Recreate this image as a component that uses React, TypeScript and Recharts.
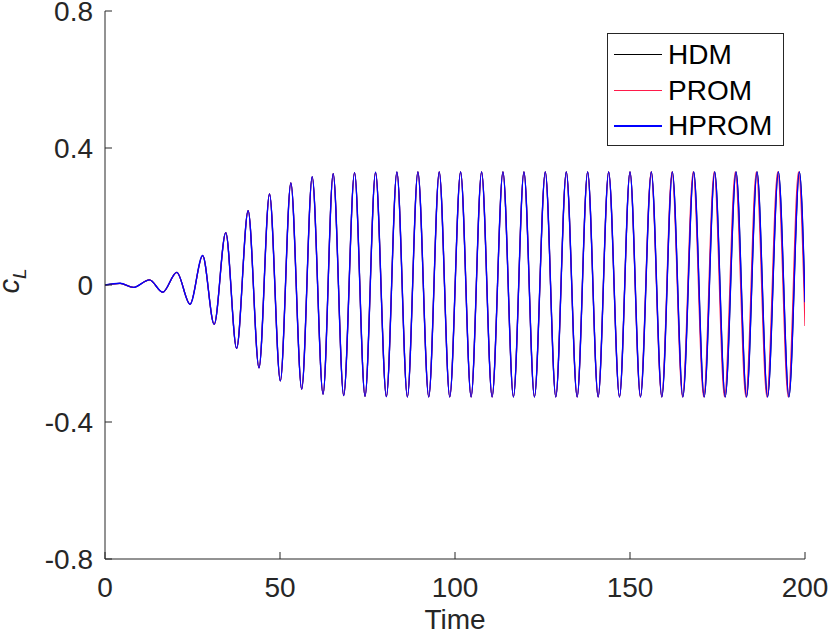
import { LineChart, Line, XAxis, YAxis, Legend } from 'recharts'

// extrema of the lift coefficient (start, alternating peaks / troughs, end)
const hdmTime = [
  0, 4.3, 8.1, 12.7, 16.5, 20.5, 24.3, 27.9, 31.2, 34.5, 37.6, 40.9, 44.0, 47.0, 50.1, 53.1,
  56.2, 59.2, 62.3, 65.2, 68.2, 71.3, 74.3, 77.3, 80.4, 83.4, 86.4, 89.4, 92.5, 95.5, 98.5,
  101.6, 104.6, 107.6, 110.6, 113.7, 116.7, 119.7, 122.7, 125.8, 128.8, 131.8, 134.9, 137.9,
  140.9, 143.9, 147.0, 150.0, 153.0, 156.1, 159.1, 162.1, 165.1, 168.2, 171.2, 174.2, 177.2,
  180.3, 183.3, 186.3, 189.3, 192.4, 195.4, 198.4, 200,
]
const hdmValue = [
  0, 0.005, -0.007, 0.015, -0.021, 0.037, -0.056, 0.086, -0.115, 0.153, -0.185, 0.217, -0.242,
  0.266, -0.28, 0.298, -0.304, 0.316, -0.319, 0.325, -0.323, 0.328, -0.325, 0.329, -0.326,
  0.33, -0.327, 0.33, -0.327, 0.33, -0.327, 0.33, -0.327, 0.33, -0.327, 0.33, -0.327, 0.33,
  -0.327, 0.33, -0.327, 0.33, -0.327, 0.33, -0.327, 0.33, -0.327, 0.33, -0.327, 0.33, -0.327,
  0.33, -0.327, 0.33, -0.327, 0.33, -0.327, 0.33, -0.327, 0.33, -0.327, 0.33, -0.327, 0.33, -0.05,
]
// PROM drifts slightly out of phase with the HDM late in the run
const promTime = [
  ...hdmTime.slice(0, 48),
  152.95, 156.05, 159.05, 162.0, 165.0, 168.05, 171.05, 174.05, 177.0, 180.1, 183.1, 186.1,
  189.1, 192.2, 195.2, 198.15, 200,
]
const promValue = [...hdmValue.slice(0, 64), -0.12]
const hpromTime = hdmTime
const hpromValue = hdmValue

const xTicks = [0, 50, 100, 150, 200]
const yTicks = [-0.8, -0.4, 0, 0.4, 0.8]

const series = [
  { name: 'HDM', color: '#000000', time: hdmTime, value: hdmValue },
  { name: 'PROM', color: '#ff1a4a', time: promTime, value: promValue },
  { name: 'HPROM', color: '#0000ff', time: hpromTime, value: hpromValue },
]

const AX = '#262626'
const FONT = 'Arial, "Liberation Sans", Helvetica, sans-serif'
const TICK = 7

function BottomTick({ x, y, payload }: any) {
  return (
    <g>
      <line x1={x} x2={x} y1={y} y2={y - TICK} stroke={AX} />
      <text x={x} y={y + 38} textAnchor="middle" fill={AX} fontSize={28} fontFamily={FONT}>
        {payload.value}
      </text>
    </g>
  )
}

function TopTick({ x, y }: any) {
  return <line x1={x} x2={x} y1={y} y2={y + TICK} stroke={AX} />
}

function LeftTick({ x, y, payload }: any) {
  return (
    <g>
      <line x1={x} x2={x + TICK} y1={y} y2={y} stroke={AX} />
      <text x={x - 12} y={y + 10} textAnchor="end" fill={AX} fontSize={28} fontFamily={FONT}>
        {payload.value}
      </text>
    </g>
  )
}

function RightTick({ x, y }: any) {
  return <line x1={x} x2={x - TICK} y1={y} y2={y} stroke={AX} />
}

function LegendBox() {
  return (
    <div style={{
      position: 'relative', width: 177, height: 113, boxSizing: 'border-box',
      border: `1px solid ${AX}`, background: '#fff', fontFamily: FONT, fontSize: 28, color: '#000',
    }}>
      {series.map((s, i) => (
        <div key={s.name} style={{ position: 'absolute', left: 0, top: 3 + i * 35.7, height: 36, width: '100%' }}>
          <div style={{ position: 'absolute', left: 6, top: 17, width: 48, height: 1.2, background: s.color }} />
          <div style={{ position: 'absolute', left: 60, top: 1, lineHeight: '34px' }}>{s.name}</div>
        </div>
      ))}
    </div>
  )
}

export default function App() {
  return (
    <div style={{ width: 830, height: 635, background: '#fff' }}>
      <style>{'body{margin:0}'}</style>
      <LineChart width={830} height={635} margin={{ top: 11, right: 25, bottom: 0, left: 0 }}>
        <XAxis
          dataKey="t"
          type="number"
          domain={[0, 200]}
          ticks={xTicks}
          allowDataOverflow
          height={76}
          stroke={AX}
          tickSize={0}
          tickMargin={0}
          tick={<BottomTick />}
          label={{
            content: () => (
              <text x={455} y={629} textAnchor="middle" fill={AX} fontSize={28} fontFamily={FONT}>Time</text>
            ),
          }}
        />
        <XAxis
          xAxisId="top"
          orientation="top"
          type="number"
          domain={[0, 200]}
          ticks={xTicks}
          allowDataOverflow
          height={0}
          stroke={AX}
          tickSize={0}
          tick={<TopTick />}
        />
        <YAxis
          type="number"
          domain={[-0.8, 0.8]}
          ticks={yTicks}
          allowDataOverflow
          width={105}
          stroke={AX}
          tickSize={0}
          tickMargin={0}
          tick={<LeftTick />}
          label={{
            content: () => (
              <text transform="translate(19,281) rotate(-90)" textAnchor="middle" fill={AX} fontFamily={FONT}>
                <tspan fontStyle="italic" fontSize={29}>c</tspan>
                <tspan fontStyle="italic" fontSize={19} dy={7}>L</tspan>
              </text>
            ),
          }}
        />
        <YAxis
          yAxisId="right"
          orientation="right"
          type="number"
          domain={[-0.8, 0.8]}
          ticks={yTicks}
          allowDataOverflow
          width={0}
          stroke={AX}
          tickSize={0}
          tick={<RightTick />}
        />
        {series.map((s) => (
          <Line
            key={s.name}
            name={s.name}
            data={s.time.map((t, i) => ({ t, v: s.value[i] }))}
            dataKey="v"
            type="monotone"
            stroke={s.color}
            strokeWidth={s.name === 'HPROM' ? 1.4 : 1.2}
            dot={false}
            activeDot={false}
            isAnimationActive={false}
          />
        ))}
        <Legend
          layout="horizontal"
          verticalAlign="middle"
          align="center"
          content={() => <LegendBox />}
          wrapperStyle={{ left: 607, top: 33, width: 177, height: 113 }}
        />
      </LineChart>
    </div>
  )
}
